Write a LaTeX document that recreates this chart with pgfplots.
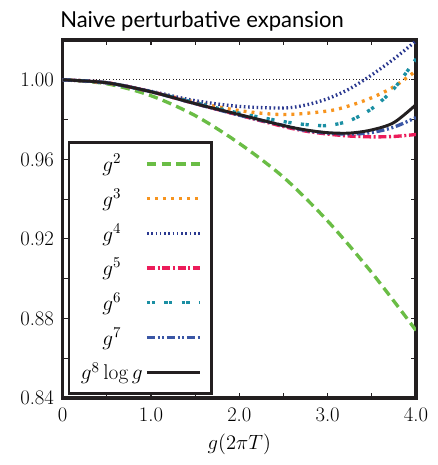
\documentclass[border=0pt]{standalone}
\usepackage{fix-cm}
\usepackage{fontspec}
\usepackage{pgfplots}
\pgfplotsset{compat=1.18}
\newfontfamily\titlefont{Lato}
\definecolor{cgreen}{HTML}{6ABD45}
\definecolor{corange}{HTML}{F7941E}
\definecolor{cnavy}{HTML}{2B3990}
\definecolor{cpink}{HTML}{EC1C5A}
\definecolor{cteal}{HTML}{1B8FA3}
\definecolor{cblue}{HTML}{3A56A5}
\definecolor{cblack}{HTML}{231F20}
\begin{document}
\begin{tikzpicture}
\begin{axis}[
  scale only axis,
  width=265pt, height=268.5pt,
  xmin=0, xmax=4, ymin=0.84, ymax=1.02,
  axis line style={line width=2.3pt, cblack},
  tick style={line width=0.8pt, cblack},
  major tick length=4pt,
  tick align=inside,
  xtick={0,0.5,...,4},
  xticklabels={0,,1.0,,2.0,,3.0,,4.0},
  ytick={0.84,0.86,0.88,0.90,0.92,0.94,0.96,0.98,1.00,1.02},
  yticklabels={0.84,,0.88,,0.92,,0.96,,1.00,},
  tick label style={font=\fontsize{15.5}{18}\selectfont},
  xticklabel style={yshift=-4pt},
  yticklabel style={xshift=-3pt},
  xlabel={$g(2\pi T)$},
  xlabel style={font=\fontsize{15.5}{18}\selectfont, yshift=-2pt},
  legend cell align=center,
  legend plot pos=right,
  legend style={at={(0.014,0.008)}, anchor=south west, draw=cblack, line width=2pt,
    font=\fontsize{16}{18}\selectfont, row sep=7.5pt, inner xsep=7pt, inner ysep=7pt,
    /tikz/every even column/.append style={column sep=8pt}},
  legend image code/.code={\draw[#1] (0pt,0pt) -- (40pt,0pt);},
]
\addplot[forget plot, cblack, line width=0.5pt, dotted] coordinates {(0,1) (4,1)};
\addplot[cgreen, line width=2.5pt, dash pattern=on 7pt off 4pt, smooth] coordinates {
(0,1.000)(0.5,0.998)(1,0.992)(1.5,0.982)(2,0.968)(2.5,0.951)(3,0.929)(3.5,0.903)(4,0.874)};
\addlegendentry{$g^2$}
\addplot[corange, line width=2.5pt, dash pattern=on 2.2pt off 3.8pt, smooth] coordinates {
(0,1.000)(0.5,0.9985)(1.0,0.994)(1.5,0.9888)(2.0,0.9845)(2.5,0.9825)(3.0,0.9843)(3.25,0.987)(3.5,0.991)(3.75,0.9965)(4.0,1.0045)};
\addlegendentry{$g^3$}
\addplot[cnavy, line width=2.5pt, dash pattern=on 1.2pt off 2pt, smooth] coordinates {
(0,1)(0.5,0.9985)(1,0.9942)(1.5,0.9895)(2,0.9866)(2.5,0.9858)(2.75,0.9873)(3,0.9905)(3.25,0.9955)(3.5,1.0025)(3.75,1.0105)(4,1.0195)};
\addlegendentry{$g^4$}
\addplot[cpink, line width=2.5pt, dash pattern=on 6pt off 2pt on 1.5pt off 2pt, smooth] coordinates {
(0,1)(0.5,0.9985)(1,0.994)(1.5,0.988)(2,0.9822)(2.5,0.9765)(2.75,0.9742)(3,0.9727)(3.25,0.9717)(3.5,0.9713)(3.75,0.9715)(4,0.9725)};
\addlegendentry{$g^5$}
\addplot[cteal, line width=2.5pt, dash pattern=on 2.4pt off 1.2pt on 2.4pt off 7pt, smooth] coordinates {
(0,1)(0.5,0.9985)(1,0.994)(1.5,0.9885)(2,0.9832)(2.5,0.979)(2.75,0.9775)(3,0.977)(3.25,0.9795)(3.5,0.9855)(3.75,0.9955)(4,1.0105)};
\addlegendentry{$g^6$}
\addplot[cblue, line width=2.5pt, dash pattern=on 6pt off 2pt on 1.5pt off 2pt on 1.5pt off 2pt, smooth] coordinates {
(0,1)(0.5,0.9985)(1,0.994)(1.5,0.988)(2,0.9822)(2.5,0.977)(2.75,0.9745)(3,0.9732)(3.25,0.9727)(3.5,0.9735)(3.75,0.9762)(4,0.981)};
\addlegendentry{$g^7$}
\addplot[cblack, line width=2.2pt, smooth] coordinates {
(0,1)(0.5,0.9985)(1,0.994)(1.5,0.988)(2,0.9825)(2.5,0.977)(2.75,0.9748)(3,0.9734)(3.25,0.9732)(3.5,0.9748)(3.75,0.9785)(4,0.9875)};
\addlegendentry{$g^8\log g$}
\end{axis}
\node[anchor=base west, inner sep=0pt, font=\titlefont\fontsize{16.5}{19}\selectfont] at (-2pt,9pt+268.5pt) {Naive perturbative expansion};
\path[use as bounding box] (-47pt,-50.25pt) rectangle (280.75pt,298.5pt);
\end{tikzpicture}
\end{document}
